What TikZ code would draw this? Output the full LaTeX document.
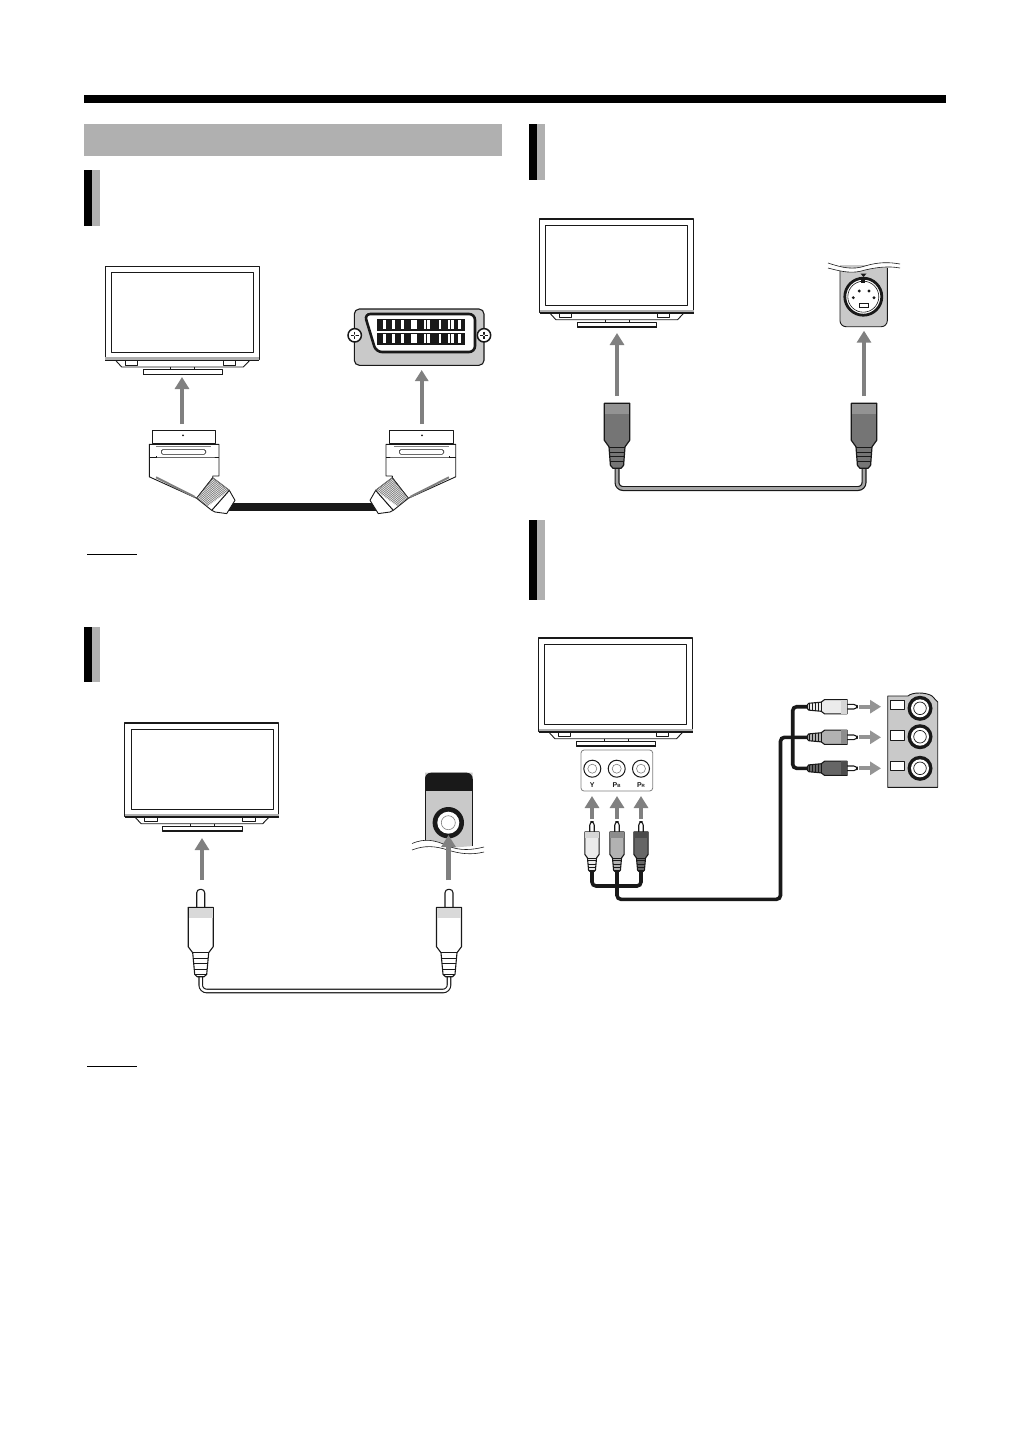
\documentclass[tikz,border=0pt]{standalone}
\usepackage{fontspec}
\setmainfont{Liberation Sans}
\usetikzlibrary{arrows.meta,calc}
\definecolor{plate}{gray}{0.79}
\definecolor{band}{gray}{0.69}
\definecolor{arrowgray}{gray}{0.50}
\definecolor{lightarrow}{gray}{0.58}
\definecolor{ink}{gray}{0.10}
\definecolor{ybandc}{gray}{0.84}
\definecolor{ybodyc}{gray}{0.92}
\definecolor{bbandc}{gray}{0.55}
\definecolor{bbodyc}{gray}{0.70}
\definecolor{rbandc}{gray}{0.30}
\definecolor{rbodyc}{gray}{0.40}
\definecolor{wbandc}{gray}{0.85}
\tikzset{
  outline/.style={draw=ink,line width=0.9pt,line join=round},
  thinline/.style={draw=ink,line width=0.6pt},
  upa/.style={draw=arrowgray,line width=4.8pt,-{Triangle[width=14pt,length=12pt,fill=arrowgray]}},
  sidea/.style={draw=lightarrow,line width=4pt,-{Triangle[width=13pt,length=11pt,fill=lightarrow]}},
  blackcable/.style={draw=ink,line width=3.6pt,rounded corners=4pt},
  labeltext/.style={inner sep=0pt,font=\bfseries\fontsize{7}{7}\selectfont,text=ink},
  pics/tvset/.style={code={
    \draw[outline,fill=white,line width=1.2pt] (0,0) rectangle (154,93.5);
    \draw[outline,line width=1pt] (6.4,6.4) rectangle (148.4,86);
    \fill[band] (0,90.5) rectangle (154,94);
    \draw[outline,line width=1.1pt] (0,94) -- (154,94);
    \draw[outline] (10.7,94.5) -- (16.4,100.7) -- (138,100.7) -- (144,94.5);
    \draw[outline] (20,94.5) rectangle (32.4,98.7);
    \draw[outline] (118,94.5) rectangle (130.4,98.7);
    \draw[thinline] (65.4,100.7) -- (65.4,103) (89.4,100.7) -- (89.4,103);
    \draw[outline] (38,103) rectangle (117.4,108.4);
    \draw[draw=ink,line width=1.5pt] (38,108) -- (117.4,108);
  }},
  pics/scartplug/.style={code={
    \coordinate (A) at (63.4,47.5);
    \coordinate (B) at (80,60);
    \coordinate (C) at (62.4,80);
    \coordinate (D) at (47.4,68);
    \coordinate (C2) at (57.5,76.5);
    \draw[outline,fill=white] (2.7,0) rectangle (66.4,13);
    \fill[ink] (33.7,5) circle (1pt);
    \draw[outline,fill=white] (0,14) -- (69.7,14) -- (69.7,45.7) -- (63.4,45.7) -- (63.4,47.5) -- (47.4,68) -- (0,46.5) -- cycle;
    \draw[draw=arrowgray,line width=1.2pt] (6.7,16) -- (61.4,16);
    \draw[thinline,rounded corners=1.5pt] (12,19.3) rectangle (56.4,24);
    \draw[thinline] (0,26.7) -- (6.7,26.7) -- (6.7,25.7) (6.7,26.7) -- (61.4,26.7) -- (69.7,26.7);
    \draw[draw=arrowgray,line width=2pt] (6.7,47) -- (45.7,66.7);
    \draw[outline,fill=white] (B) -- (85.7,70) -- (77.4,83.3) -- (65.7,81.7) -- (C) -- cycle;
    \draw[outline,fill=white] (A) -- (B) -- (C) -- (D) -- cycle;
    \foreach \t in {0,0.06,...,1.0}{
      \draw[draw=arrowgray,line width=0.8pt] ($(A)!\t!(D)$) -- ($(B)!\t!(C2)$);
    }
  }},
  pics/rcaplug/.style 2 args={code={
    \draw[outline,line width=1.1pt,fill=white,rounded corners=3.5pt] (-4,18) -- (-4,0) -- (4,0) -- (4,18);
    \draw[outline,line width=1.1pt,fill=#2] (-12.5,18) -- (12.5,18) -- (12.5,57.4) -- (8,63.4) -- (6,85) -- (3.5,87.4) -- (-3.5,87.4) -- (-6,85) -- (-8,63.4) -- (-12.5,57.4) -- cycle;
    \fill[#1] (-12,18.5) rectangle (12,29);
    \draw[thinline] (-8,63.4) -- (8,63.4) (-7.6,68.5) -- (7.6,68.5) (-7,74) -- (7,74) (-6.6,79.5) -- (6.6,79.5) (-6.1,84.5) -- (6.1,84.5);
  }},
  pics/svplug/.style={code={
    \draw[outline,fill=arrowgray!92!black,line width=1.2pt] (-12.7,0) -- (12.7,0) -- (12.7,37) -- (8,43.5) -- (6.6,62) -- (4,65) -- (-4,65) -- (-6.6,62) -- (-8,43.5) -- (-12.7,37) -- cycle;
    \fill[arrowgray!85!white] (-12,0.6) rectangle (12,10.7);
    \draw[draw=ink,line width=1.2pt] (-12.7,0) -- (12.7,0);
    \draw[thinline] (-8,43.5) -- (8,43.5) (-7.6,48.5) -- (7.6,48.5) (-7.2,53) -- (7.2,53) (-6.9,57.5) -- (6.9,57.5);
  }},
  pics/screw/.style={code={
    \draw[draw=ink,line width=1.5pt,fill=white] (0,0) circle (6.7pt);
    \draw[draw=ink,line width=1.4pt] (-3.8,0) -- (3.8,0) (0,-3.8) -- (0,3.8);
    \fill[white] (0,0) circle (1pt);
  }},
}
\begin{document}
\begin{tikzpicture}[x=1pt,y=-1pt]
\useasboundingbox (0,0) rectangle (1032,1456);
\fill[white] (0,0) rectangle (1032,1456);
% page furniture
\fill[black] (84,95) rectangle (946,103);
\fill[band] (84,124) rectangle (502,155.7);
\fill[black] (84,170) rectangle (92,226);
\fill[band] (92,170) rectangle (100,226);
\fill[black] (84,627) rectangle (92,682);
\fill[band] (92,627) rectangle (100,682);
\fill[black] (529,124) rectangle (537,180);
\fill[band] (537,124) rectangle (545,180);
\fill[black] (529,520) rectangle (537,600);
\fill[band] (537,520) rectangle (545,600);
\draw[black,line width=0.9pt] (87,554) -- (137,554);
\draw[black,line width=0.9pt] (87,1066) -- (137,1066);
% televisions
\pic at (105.3,266.3) {tvset};
\pic at (124.7,723) {tvset};
\pic at (539.5,219) {tvset};
\pic at (538.5,638) {tvset};
% ---------- SCART
\fill[rounded corners=5pt,fill=plate] (354.3,309) rectangle (484,365.3);
\draw[outline,line width=1.1pt,rounded corners=5pt] (354.3,309) rectangle (484,365.3);
\draw[draw=ink,line width=2.6pt,fill=white,rounded corners=6pt] (364.5,314) -- (475,314) -- (475,352) -- (376,352) -- cycle;
\foreach \yy in {318.7,332.7}{
  \fill[ink] (376.7,\yy) rectangle (465,\yy+12);
  \foreach \xx in {384.2,393.5,402.5,412.3,415.5,425,428.2,440,449,452.4,459.5}{
    \fill[white] (\xx-1.3,\yy+1.5) rectangle (\xx+1.3,\yy+10.5);
  }
}
\pic at (354.7,335.3) {screw};
\pic at (484,335.3) {screw};
\coordinate (scl) at (226,507);
\coordinate (scr) at (379.7,507);
\draw[draw=ink,line width=7.6pt] (scl) -- (scr);
\pic at (149.3,430.3) {scartplug};
\pic[xscale=-1] at (455.7,430.3) {scartplug};
\coordinate (a1s) at (182,424); \coordinate (a1e) at (182,377);
\coordinate (a2s) at (421.7,424); \coordinate (a2e) at (421.7,370);
\draw[upa] (a1s) -- (a1e);
\draw[upa,line width=4.2pt,-{Triangle[width=13pt,length=11pt,fill=arrowgray]}] (a2s) -- (a2e);
% ---------- composite (RCA)
\path[fill=plate] (425,841) -- (425,772.7) -- (472.7,772.7) -- (472.7,846) -- (448,848) -- cycle;
\path[fill=ink,rounded corners=6pt] (425,800) -- (425,772.7) -- (472.7,772.7) -- (472.7,800) -- cycle;
\fill[plate] (425,791) rectangle (472.7,805);
\draw[outline] (425,779) -- (425,841) (472.7,779) -- (472.7,846);
\fill[white] (411,843.5) .. controls (425,838) and (435,840) .. (448,846) .. controls (460,851) and (472,850) .. (485,847) -- (485,852) .. controls (472,855) and (460,854) .. (448,850) .. controls (435,846) and (425,845) .. (411,850) -- cycle;
\fill[white] (420,850) rectangle (478,856);
\draw[thinline] (412,843.5) .. controls (425,838) and (435,840) .. (448,846) .. controls (460,851) and (472,850) .. (484,847);
\draw[thinline] (412,850) .. controls (425,845) and (435,846) .. (448,850) .. controls (460,854) and (472,855) .. (484,852);
\fill[ink] (448.3,822.7) circle (15.7pt);
\fill[white] (448.3,822.7) circle (11pt);
\draw[thinline,draw=arrowgray] (448.3,822.7) circle (7pt);
\coordinate (a3s) at (202,880); \coordinate (a3e) at (202,838);
\coordinate (a4s) at (448.5,880); \coordinate (a4e) at (448.5,835);
\draw[upa] (a3s) -- (a3e);
\draw[upa] (a4s) -- (a4e);
\coordinate (ca1) at (200.7,976); \coordinate (ca2) at (449,976);
\draw[draw=ink,line width=4.6pt,rounded corners=6pt] (ca1) -- (200.7,991) -- (449,991) -- (ca2);
\draw[draw=white,line width=2.4pt,rounded corners=6pt] (ca1) -- (200.7,991) -- (449,991) -- (ca2);
\pic at (200.7,889.3) {rcaplug={wbandc}{white}};
\pic at (449,889.3) {rcaplug={wbandc}{white}};
% ---------- S-video
\fill[plate,rounded corners=6pt] (840,258) -- (887.3,258) -- (887.3,326.7) -- (840,326.7) -- cycle;
\draw[outline,rounded corners=6pt] (840,268) -- (840,326.7) -- (887.3,326.7) -- (887.3,268);
\fill[white] (826,250) rectangle (902,265);
\fill[white] (828,263) .. controls (843,268) and (853,270) .. (865,266) .. controls (878,262) and (889,262) .. (900,264) -- (900,268) .. controls (889,266) and (878,267) .. (865,270) .. controls (853,274) and (843,272) .. (828,268) -- cycle;
\draw[thinline] (828,263) .. controls (843,268) and (853,270) .. (865,266) .. controls (878,262) and (889,262) .. (900,264);
\draw[thinline] (828,268) .. controls (843,272) and (853,274) .. (865,270) .. controls (878,267) and (889,266) .. (900,268);
\fill[ink] (860.5,273.5) -- (866.5,273.5) -- (863.5,277) -- cycle;
\draw[draw=ink,line width=2.8pt,fill=white] (863.3,296.7) circle (18.5pt);
\draw[draw=ink,line width=0.6pt] (863.3,296.7) circle (15.5pt);
\fill[ink] (859.3,291) circle (1.6pt) (869,291) circle (1.6pt) (853.3,297.7) circle (1.6pt) (874,297.7) circle (1.6pt);
\fill[ink] (861.3,278.5) rectangle (865.3,283);
\draw[thinline] (859.3,303.3) rectangle (868.3,307.3);
\coordinate (a5s) at (617,396); \coordinate (a5e) at (617,333);
\coordinate (a6s) at (864,396); \coordinate (a6e) at (864,330.7);
\draw[upa] (a5s) -- (a5e);
\draw[upa] (a6s) -- (a6e);
\coordinate (cs1) at (617,466); \coordinate (cs2) at (864,466);
\draw[draw=ink,line width=5pt,rounded corners=6pt] (cs1) -- (617,488.5) -- (864,488.5) -- (cs2);
\draw[draw=arrowgray!70!white,line width=2.6pt,rounded corners=6pt] (cs1) -- (617,488.5) -- (864,488.5) -- (cs2);
\pic at (617,403.3) {svplug};
\pic at (864,403.3) {svplug};
% ---------- component: TV side
\draw[draw=arrowgray,line width=0.8pt,fill=white,rounded corners=3pt] (581,750) rectangle (652.7,791);
\foreach \cx in {592.3,616.7,641}{
  \draw[draw=ink,line width=1pt] (\cx,768.7) circle (8.5pt);
  \draw[draw=arrowgray,line width=0.6pt] (\cx,768.7) circle (4.5pt);
}
\node[labeltext] (ly) at (592.3,785.5) {Y};
\node[labeltext] (lb) at (616.7,785.5) {P\fontsize{4.5}{4.5}\selectfont B};
\node[labeltext] (lr) at (641,785.5) {P\fontsize{4.5}{4.5}\selectfont R};
\coordinate (a7s) at (592,819); \coordinate (a7e) at (592,796);
\coordinate (a8s) at (617,819); \coordinate (a8e) at (617,796);
\coordinate (a9s) at (641,819); \coordinate (a9e) at (641,796);
\draw[upa] (a7s) -- (a7e);
\draw[upa] (a8s) -- (a8e);
\draw[upa] (a9s) -- (a9e);
% component cables
\coordinate (py) at (592,868); \coordinate (pb) at (617,868); \coordinate (pr) at (641,868);
\coordinate (qy) at (810,706.7); \coordinate (qb) at (810,737.3); \coordinate (qr) at (810,768.3);
\draw[blackcable] (py) -- (592,886) -- (641,886) -- (pr);
\draw[blackcable] (pb) -- (617,899.3) -- (780.5,899.3) -- (780.5,737.3) -- (qb);
\draw[blackcable] (qy) -- (792.7,706.7) -- (792.7,768.3) -- (qr);
\pic[scale=.57] at (592,821.7) {rcaplug={ybandc}{ybodyc}};
\pic[scale=.57] at (617,821.7) {rcaplug={bbandc}{bbodyc}};
\pic[scale=.57] at (641,821.7) {rcaplug={rbandc}{rbodyc}};
\pic[scale=.57,rotate=-90] at (857.3,706.7) {rcaplug={ybandc}{ybodyc}};
\pic[scale=.57,rotate=-90] at (857.3,737.3) {rcaplug={bbandc}{bbodyc}};
\pic[scale=.57,rotate=-90] at (857.3,768.3) {rcaplug={rbandc}{rbodyc}};
\coordinate (a10s) at (859.3,706.7); \coordinate (a10e) at (881,706.7);
\coordinate (a11s) at (859.3,737.3); \coordinate (a11e) at (881,737.3);
\coordinate (a12s) at (859.3,768.3); \coordinate (a12e) at (881,768.3);
\draw[sidea] (a10s) -- (a10e);
\draw[sidea] (a11s) -- (a11e);
\draw[sidea] (a12s) -- (a12e);
% component panel
\draw[outline,fill=plate] (887.7,696) -- (908,696) .. controls (912,692) and (926,692) .. (932,696) -- (937.7,702) -- (937.7,787.3) -- (887.7,787.3) -- cycle;
\foreach \cy/\ly/\hy in {708.3/700.7/709.3,736.7/730.7/740.7,768.3/761.7/770.7}{
  \draw[outline,fill=white] (890.3,\ly) rectangle (904.7,\hy);
  \fill[ink] (920,\cy) circle (12.5pt);
  \fill[white] (920,\cy) circle (9pt);
  \draw[draw=ink,line width=0.7pt] (920,\cy) circle (6.3pt);
}
\end{tikzpicture}
\end{document}
